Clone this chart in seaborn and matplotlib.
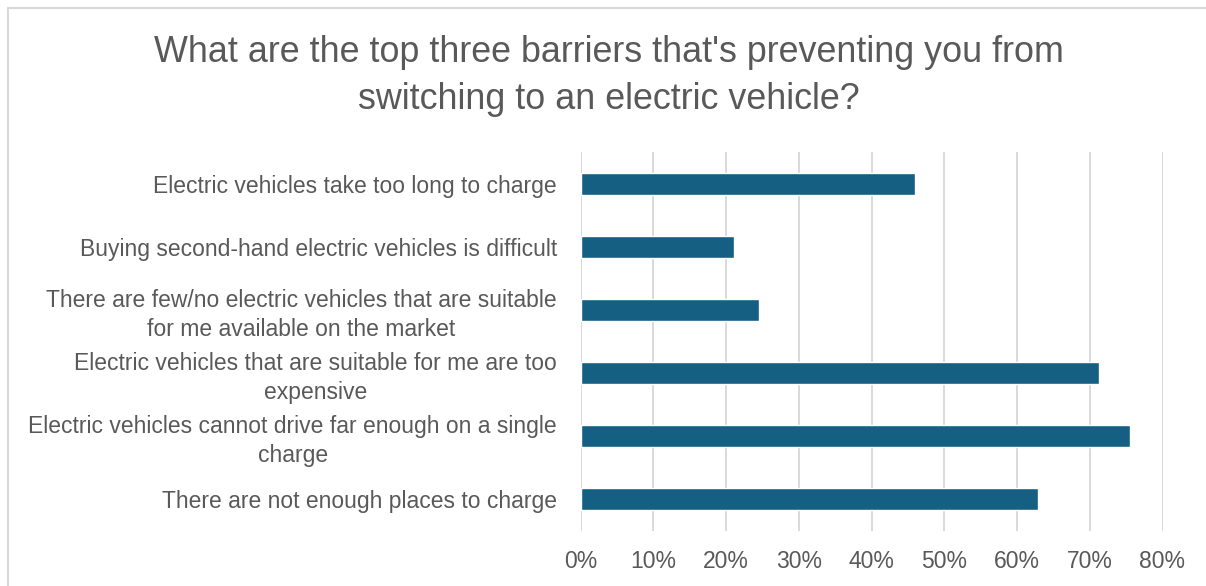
import matplotlib
matplotlib.use("Agg")
import matplotlib.pyplot as plt
import seaborn as sns
import pandas as pd
from matplotlib.ticker import PercentFormatter, MultipleLocator
from matplotlib.lines import Line2D

categories = [
    "Electric vehicles take too long to charge",
    "Buying second-hand electric vehicles is difficult",
    "There are few/no electric vehicles that are suitable\nfor me available on the market",
    "Electric vehicles that are suitable for me are too\nexpensive",
    "Electric vehicles cannot drive far enough on a single\ncharge",
    "There are not enough places to charge",
]
values = [0.460, 0.211, 0.245, 0.713, 0.756, 0.629]
title = "What are the top three barriers that's preventing you from\nswitching to an electric vehicle?"

sns.set_theme(style="white")
plt.rcParams['font.family'] = ['Liberation Sans', 'DejaVu Sans']

W, H = 1206, 586
fig = plt.figure(figsize=(W / 100, H / 100), dpi=100)
fig.patch.set_facecolor("white")

ax = fig.add_axes([580.5 / W, 1 - 530.5 / H, 582 / W, 378 / H])
df = pd.DataFrame({"cat": categories, "val": values})
sns.barplot(data=df, x="val", y="cat", color="#156082", width=0.36,
            orient="h", ax=ax, saturation=1)

ax.set_xlim(0, 0.8)
ax.xaxis.set_major_locator(MultipleLocator(0.1))
ax.xaxis.set_major_formatter(PercentFormatter(1.0, decimals=0))
ax.grid(axis="x", color="#d9d9d9", linewidth=1.4)
ax.set_axisbelow(True)
for s in ax.spines.values():
    s.set_visible(False)
ax.set_xlabel("")
ax.set_ylabel("")
ax.tick_params(axis="both", length=0, colors="#595959", labelsize=16.5)
ax.tick_params(axis="x", pad=14)
ax.tick_params(axis="y", pad=17)
for lab in ax.get_yticklabels():
    lab.set_multialignment("center")
    lab.set_linespacing(1.3)

fig.text(609 / W, 1 - 76 / H, title, ha="center", va="center",
         fontsize=25.8, color="#595959", linespacing=1.48)

x0 = 7.5 / W
yt = 1 - 7.5 / H
fig.add_artist(Line2D([x0, 1], [yt, yt], color="#d9d9d9", linewidth=1.5,
                      transform=fig.transFigure))
fig.add_artist(Line2D([x0, x0], [0, yt], color="#d9d9d9", linewidth=1.5,
                      transform=fig.transFigure))

fig.savefig("out.png", dpi=100)
